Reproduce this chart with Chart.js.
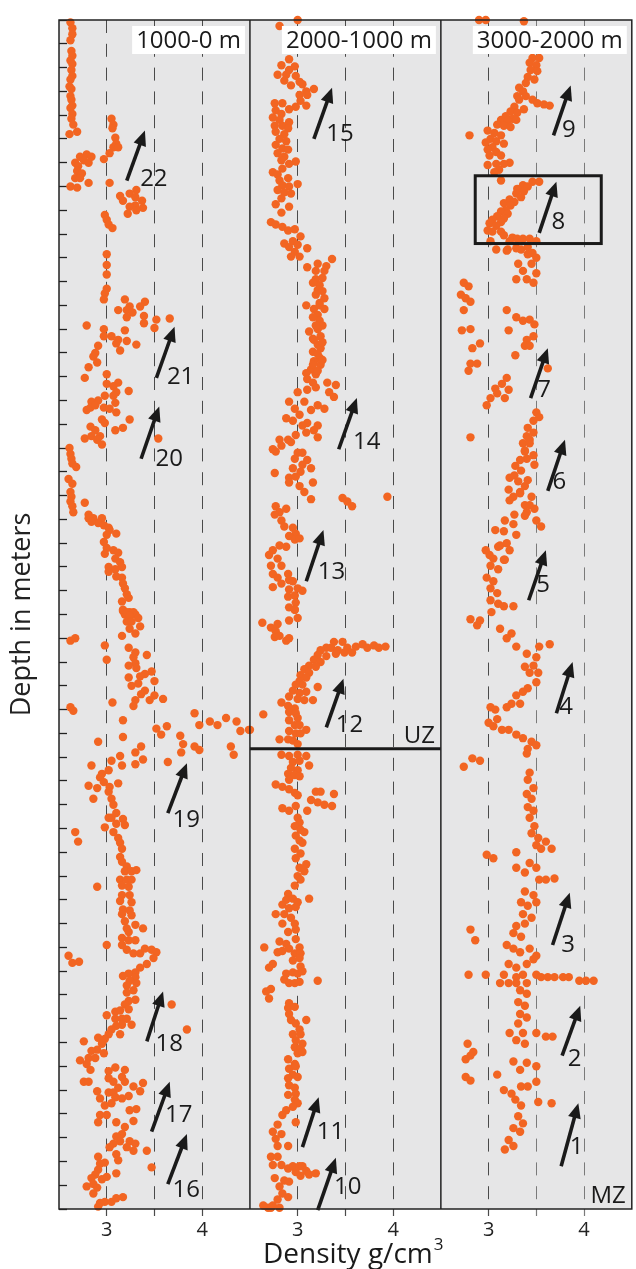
<!DOCTYPE html>
<html>
<head>
<meta charset="utf-8">
<script src="https://cdn.jsdelivr.net/npm/chart.js@4.4.1/dist/chart.umd.min.js"></script>
<style>
  body { margin: 0; background: #fff; }
  #wrap { width: 636px; height: 1269px; }
</style>
</head>
<body>
<div id="wrap"><canvas id="myChart"></canvas></div>
<script>
'use strict'

const panelLabels = ['1000-0 m', '2000-1000 m', '3000-2000 m'];
const panelRanges = [[0, 1000], [1000, 2000], [2000, 3000]];
const densityTickLabels = [3, 4];

// [density g/cm3, depth m]
const panel1Points = [
  [2.62,2],[2.64,7],[2.64,12],[2.62,17],[2.63,26],[2.64,30],[2.62,34],[2.64,37],[2.63,42],[2.64,47],[2.62,50],[2.61,56],[2.63,58],[2.62,64],[2.63,67],[2.64,72],[2.62,74],[2.64,79],[2.63,83],[2.65,88],[2.61,96],[2.69,94],
  [2.79,113],[2.84,115],[2.72,115],[2.76,118],[2.67,120],[2.81,120],[2.70,123],[2.69,127],[2.74,129],[2.67,133],[2.72,133],[2.81,137],[2.62,140],[2.69,141],
  [3.05,83],[3.07,88],[3.06,91],[3.09,99],[3.10,104],[3.07,107],[3.12,107],[3.03,112],[2.97,117],[3.03,137],
  [3.31,143],[3.24,146],[3.14,148],[3.30,149],[3.17,152],[3.37,152],[3.30,156],[3.24,157],[3.38,158],[3.31,160],[3.22,163],
  [2.98,164],[3.00,168],[3.02,172],[3.06,175],[3.00,197],[3.00,206],[3.00,214],[3.00,226],[2.98,230],[2.97,235],
  [3.19,235],[3.40,237],[3.24,241],[3.12,244],[3.21,244],[3.35,241],[3.27,246],[3.39,249],[3.21,250],[3.52,252],[3.66,251],[3.39,255],[3.50,259],
  [2.79,257],[2.97,260],[3.19,261],[3.05,266],[2.97,266],[3.12,269],[3.21,270],[3.10,272],[3.31,273],[2.91,274],[3.14,278],[2.88,280],[2.86,283],[2.90,288],[2.81,292],
  [3.00,298],[2.77,301],[3.12,305],[3.00,306],[3.07,308],[3.10,313],[3.23,312],[2.98,316],[3.07,316],[2.91,320],[2.84,321],[3.09,322],[2.79,328],[2.97,326],[2.83,326],[2.88,324],[3.03,327],[3.10,330],
  [2.95,336],[3.24,336],[2.98,339],[2.83,342],[3.17,343],[2.88,345],[3.09,345],[2.77,352],[2.84,350],[2.93,350],[2.90,353],[2.95,357],[3.54,352],
  [2.61,360],[2.62,365],[2.63,369],[2.64,373],[2.68,376],[2.60,386],[2.64,390],[2.62,397],[2.63,401],[2.62,405],[2.64,409],[2.65,414],
  [2.77,406],[2.81,416],[2.86,419],[2.81,419],[2.95,419],[2.91,423],[2.84,422],[2.97,425],[3.02,427],[3.03,429],[3.00,433],[3.10,432],[2.97,439],[3.00,444],[2.98,449],[3.07,446],[3.12,448],
  [3.09,453],[3.14,456],[3.02,460],[3.16,460],[3.09,462],[3.02,464],[3.10,468],[3.16,469],[3.17,474],[3.19,478],[3.21,483],[3.23,486],[3.16,489],[3.17,497],[3.24,498],[3.30,500],[3.19,500],
  [3.17,496],[3.21,498],[3.28,498],[3.24,501],[3.33,503],[3.21,506],[3.26,506],[3.35,510],[3.16,518],[3.24,512],[3.30,516],[2.62,522],[2.67,520],[2.98,526],[3.00,538],[3.23,528],[3.30,532],[3.42,534],[3.28,536],[3.30,541],
  [3.23,543],[3.31,545],[3.47,548],[3.40,550],[3.35,552],[3.23,553],[3.50,556],[3.26,560],[3.33,558],[3.40,564],[3.36,567],[3.30,572],[3.50,568],[3.59,571],[3.45,572],[3.28,577],[3.06,574],[2.62,578],[2.65,581],
  [3.17,589],[3.52,596],[3.57,601],[3.63,594],[3.17,603],[2.91,607],[3.30,616],[3.36,611],[3.38,622],[3.30,626],[3.14,619],[3.16,627],[3.05,623],[2.84,627],[2.95,634],[3.02,631],[2.81,644],[2.90,646],[2.86,655],
  [2.93,637],[2.97,641],[3.03,645],[3.12,642],[3.02,649],[3.05,655],[3.07,660],[3.10,667],[3.05,671],[3.17,672],[3.02,671],[2.98,679],[3.10,676],[3.19,677],[3.07,683],[3.12,688],[3.14,692],[3.16,697],
  [3.14,704],[3.16,708],[3.21,712],[3.19,716],[3.26,716],[3.31,715],[3.14,723],[3.21,723],[3.26,723],[3.16,728],[3.23,729],[3.16,736],[3.24,736],[3.14,741],[3.26,742],[3.17,748],[3.24,749],[3.16,752],[3.26,753],
  [3.19,758],[3.30,761],[3.21,764],[3.38,764],[3.23,767],[3.16,772],[3.16,778],[3.23,774],[3.30,774],[3.21,782],[3.28,785],[3.35,785],[3.40,781],[3.47,782],[3.52,784],[3.49,789],
  [2.67,683],[2.70,691],[2.90,729],[3.00,778],[2.60,787],[2.64,793],[2.71,792],
  [3.42,794],[3.35,797],[3.30,801],[3.23,802],[3.17,804],[3.30,805],[3.24,808],[3.31,810],[3.21,812],[3.28,816],[3.21,818],[3.30,824],[3.23,825],[3.19,828],[3.09,834],[3.14,833],[3.23,832],
  [3.00,837],[3.09,840],[3.16,840],[3.21,840],[3.26,845],[3.16,845],[3.10,846],[3.05,849],[3.14,853],[3.02,853],[2.98,857],[2.91,856],[2.95,861],[2.90,866],[2.84,867],[2.97,869],[2.81,873],[2.76,859],[2.88,873],
  [2.72,875],[2.79,878],[2.83,883],[2.76,893],[2.81,893],[3.09,881],[3.02,884],[3.19,883],[3.16,889],[3.02,890],[3.07,893],[3.19,893],[3.28,897],[3.38,894],[2.90,901],[3.02,902],[3.12,898],[3.07,902],
  [2.93,907],[3.09,906],[3.16,907],[3.23,905],[3.35,901],[3.05,911],[2.98,913],[3.24,917],[3.31,916],[2.93,921],[3.00,921],[2.91,927],[3.10,927],[3.28,926],[3.19,931],[3.16,937],[3.10,939],[3.07,945],
  [3.24,943],[3.14,943],[3.30,945],[3.03,948],[3.21,948],[3.10,954],[3.12,959],[3.28,951],[3.42,951],[2.91,956],[2.93,962],[2.98,961],[2.91,967],[2.88,971],[2.84,974],[2.95,975],[3.00,973],
  [2.79,981],[2.86,979],[2.90,982],[2.86,987],[3.10,970],[3.47,965],[2.93,995],[2.98,994],[3.05,994],[3.10,991],[3.17,990],[2.91,998],
  [3.92,583],[3.97,593],[4.08,590],[4.16,593],[4.25,587],[4.36,590],[4.40,598],[4.49,597],[3.77,602],[3.80,609],[3.78,616],[3.92,611],[3.97,614],[3.64,624],[4.30,611],[4.33,618],[3.68,828],[3.84,849]
];

const panel2Points = [
  [3.00,1000],[2.81,1005],[2.91,1033],[2.83,1038],[2.91,1042],[2.97,1039],[2.79,1046],[2.88,1046],[2.98,1047],[2.86,1051],[3.02,1052],[2.93,1055],[3.05,1054],[3.09,1060],[3.17,1058],[3.02,1063],[3.10,1063],
  [3.03,1068],[3.09,1072],[2.98,1073],[2.76,1070],[2.84,1070],[2.91,1075],[2.77,1076],[2.83,1079],[2.74,1082],[2.81,1084],[2.91,1086],[2.76,1089],[2.84,1089],[2.90,1091],[2.77,1094],[2.86,1096],[2.81,1100],
  [2.88,1102],[2.77,1105],[2.84,1108],[2.90,1109],[2.79,1112],[2.86,1115],[2.83,1118],[2.98,1119],[2.91,1121],[2.84,1125],[2.74,1128],[2.79,1130],[2.90,1133],[2.81,1135],[3.00,1138],[2.84,1139],[2.91,1140],
  [2.79,1143],[2.86,1145],[2.93,1146],[2.83,1150],[2.77,1155],[2.91,1157],[2.83,1162],[2.72,1170],[2.77,1172],[2.84,1174],[2.90,1177],[2.97,1176],[3.03,1182],[2.86,1188],[2.95,1186],[3.00,1189],[2.91,1191],
  [3.10,1192],[2.97,1195],[2.93,1199],[3.02,1199],
  [3.10,1208],[3.21,1205],[3.30,1207],[3.36,1201],[3.19,1211],[3.28,1211],[3.19,1218],[3.26,1217],[3.23,1223],[3.21,1227],[3.19,1231],[3.28,1234],[3.23,1238],[3.09,1240],[3.17,1243],[3.28,1243],[3.21,1248],
  [3.23,1253],[3.12,1262],[3.21,1260],[3.24,1266],[3.16,1268],[3.21,1273],[3.24,1276],[3.16,1279],[3.23,1284],[3.17,1287],[3.24,1290],[3.14,1294],[3.09,1297],[3.19,1298],[3.10,1302],[3.16,1305],[3.31,1305],
  [3.40,1307],[3.19,1309],[3.10,1311],[3.33,1313],[3.38,1317],[3.00,1313],[2.91,1321],[3.07,1321],[3.21,1324],[2.97,1327],[3.14,1328],[3.28,1327],[2.88,1335],[3.02,1332],[2.95,1337],[3.10,1339],[3.05,1341],
  [3.21,1341],[3.17,1345],[3.09,1347],[2.98,1349],[3.21,1351],[2.90,1353],[2.81,1353],[2.93,1355],[2.74,1361],[2.83,1358],[2.77,1363],[3.00,1364],[3.05,1364],[2.97,1369],[3.10,1370],[3.05,1374],[2.95,1377],
  [3.03,1380],[3.14,1377],[2.76,1381],[2.91,1385],[2.98,1384],[3.16,1389],[2.91,1389],[3.02,1392],[3.07,1397],[3.14,1403],[3.47,1402],[3.52,1405],[3.57,1409],[3.94,1401],
  [2.77,1409],[2.81,1414],[2.88,1411],[2.76,1416],[2.83,1421],[2.95,1427],[2.86,1426],[2.98,1432],[2.91,1434],[2.97,1437],[3.02,1436],[2.88,1443],[2.81,1442],[2.74,1446],[2.70,1450],[2.79,1453],[2.72,1459],
  [2.83,1459],[2.74,1466],[2.79,1469],[2.90,1466],[2.91,1471],[2.83,1474],[2.74,1477],[2.95,1472],[2.91,1479],[3.00,1478],[3.05,1480],[2.90,1485],[2.97,1484],[2.98,1490],[2.91,1494],[2.97,1496],
  [3.16,1221],[3.26,1228],[3.23,1240],[3.16,1250],[3.26,1257],[3.19,1257],[3.17,1269],[3.26,1271],[3.21,1281],[3.26,1286],[3.16,1290],[3.21,1295],
  [2.97,1496],[3.00,1503],[2.91,1505],[2.63,1507],[2.72,1511],[2.79,1508],[2.77,1514],[2.76,1519],[2.81,1518],[2.88,1522],[2.91,1520],
  [3.38,1523],[3.47,1523],[3.30,1528],[3.24,1530],[3.35,1528],[3.42,1530],[3.52,1528],[3.61,1527],[3.68,1525],[3.73,1528],[3.80,1526],[3.85,1528],[3.92,1527],[3.40,1533],[3.49,1532],[3.57,1532],
  [3.21,1534],[3.30,1535],[3.17,1538],[3.24,1540],[3.12,1543],[3.19,1544],[3.07,1546],[3.12,1549],[3.03,1551],[3.09,1553],[3.02,1556],[3.05,1559],[2.98,1559],[3.21,1561],[2.95,1564],[3.02,1566],[3.09,1565],
  [2.91,1569],[3.00,1571],[3.07,1572],[3.16,1572],[2.83,1574],[2.90,1577],[2.97,1579],[2.91,1582],[2.98,1583],[2.64,1584],[3.00,1587],[2.91,1589],[2.97,1593],[3.02,1593],[3.09,1597],[2.91,1598],[2.98,1600],
  [3.03,1600],[2.81,1605],[2.90,1605],[2.95,1606],[3.00,1609],[2.50,1597],
  [2.83,1618],[2.91,1619],[3.00,1618],[3.09,1619],[2.95,1624],[3.02,1623],[3.12,1627],[2.93,1629],[3.00,1631],[2.90,1634],[2.97,1635],[3.02,1636],[2.91,1639],[2.77,1643],[2.84,1645],[2.91,1647],[2.97,1650],
  [3.00,1652],[3.19,1649],[3.24,1649],[3.38,1651],[3.14,1656],[3.21,1658],[3.28,1660],[3.36,1661],[2.84,1663],[2.91,1665],[2.98,1661],[3.10,1665],[3.00,1671],[3.02,1675],[2.97,1678],[3.03,1681],[3.07,1683],
  [2.98,1686],[3.02,1690],[3.05,1692],[2.97,1697],[3.03,1701],[2.98,1705],[3.09,1710],[3.02,1713],[3.07,1716],[3.00,1720],[3.03,1723],[2.97,1728],[2.90,1735],[2.88,1740],[2.95,1739],[3.00,1742],[2.84,1744],
  [2.91,1747],[2.98,1746],[3.12,1739],[2.86,1752],[2.77,1752],[2.93,1755],[2.84,1760],[2.97,1760],[2.90,1767],[2.98,1765],[2.81,1775],[2.79,1784],[2.88,1777],[2.98,1773],[3.02,1780],[2.91,1781],[2.84,1783],
  [2.97,1785],[3.03,1785],[2.65,1780],[2.74,1794],[2.70,1797],[2.95,1791],[3.02,1789],[3.03,1796],[2.88,1802],[2.95,1801],[3.00,1802],[3.05,1800],[2.86,1807],[2.91,1810],[2.97,1810],[3.02,1809],[3.21,1808],
  [2.67,1817],[2.72,1815],[2.70,1823],[2.91,1827],[2.90,1831],[2.97,1830],[2.91,1836],[2.93,1841],[2.98,1844],[3.09,1841],[3.02,1849],[2.95,1853],[3.03,1853],[2.98,1858],[3.05,1861],[2.97,1864],[3.03,1865],
  [3.00,1869],[3.05,1868],[2.90,1874],[2.97,1878],[2.91,1882],[2.98,1880],[2.95,1887],[2.90,1890],[3.00,1889],[2.91,1896],[2.97,1898],[2.98,1903],[2.90,1904],[2.97,1908],[3.00,1911],[2.95,1914],[2.88,1917],
  [2.84,1921],[2.98,1927],[2.79,1929],[2.74,1935],[2.83,1937],[2.90,1947],[2.77,1941],[2.79,1947],[2.72,1956],[2.79,1956],[2.74,1963],[2.83,1963],[2.90,1966],[2.95,1964],[3.02,1964],[2.98,1969],[3.05,1964],
  [3.09,1968],[3.12,1971],[3.19,1970],[3.03,1972],[2.76,1974],[2.86,1976],[2.81,1981],[2.91,1977],[2.84,1987],[2.90,1990],[2.79,1992],[2.74,1997],[2.69,1999],[2.72,1999],[2.81,1999],[2.64,1997]
];

const panel3Points = [
  [2.90,2000],[2.97,2000],[3.37,2001],[3.46,2032],[3.53,2032],[3.43,2036],[3.50,2038],[3.44,2042],[3.51,2043],[3.41,2048],[3.48,2050],[3.39,2053],[3.32,2057],[3.36,2060],[3.30,2064],[3.39,2064],[3.32,2067],
  [3.46,2067],[3.51,2070],[3.58,2071],[3.64,2072],[3.27,2073],[3.37,2075],[3.23,2077],[3.30,2078],[3.18,2081],[3.25,2083],[3.13,2084],[3.20,2085],[3.29,2084],[3.09,2088],[3.16,2089],[3.23,2090],[2.99,2093],
  [3.06,2095],[2.80,2097],[3.13,2097],[3.02,2100],[3.08,2102],[2.97,2103],[3.16,2104],[3.04,2107],[2.99,2109],[3.08,2111],[3.13,2114],[3.01,2114],[3.22,2120],[3.08,2121],[2.99,2122],[3.16,2121],[3.11,2126],
  [3.06,2128],[3.13,2135],[3.46,2136],[3.53,2136],[3.36,2139],[3.41,2140],[3.30,2142],[3.37,2144],[3.29,2146],[3.34,2149],[3.22,2151],[3.27,2153],[3.16,2154],[3.23,2156],[3.18,2160],[3.13,2161],[3.20,2163],
  [3.09,2165],[3.16,2167],[3.04,2168],[3.13,2170],[3.01,2171],[3.08,2173],[2.99,2177],[3.04,2178],[3.13,2178],[3.16,2181],[3.25,2183],[3.30,2184],[3.36,2184],[3.43,2184],[3.50,2186],[3.22,2186],[3.02,2186],
  [3.08,2193],[3.20,2193],[3.34,2193],[3.41,2191],[3.46,2196],
  [3.19,2194],[3.29,2192],[3.41,2197],[3.50,2200],[3.31,2205],[3.45,2205],[3.36,2211],[3.50,2213],[3.29,2218],[3.40,2218],[3.47,2221],[2.74,2221],[2.79,2224],[2.71,2231],[2.76,2234],[2.81,2237],[2.74,2244],
  [3.19,2244],[3.29,2250],[3.36,2253],[3.43,2252],[3.48,2256],[2.72,2261],[2.81,2260],[3.21,2261],[3.47,2266],[3.40,2269],[3.38,2274],[3.43,2274],[2.83,2276],[2.91,2272],[3.28,2282],[2.81,2289],[2.88,2289],
  [2.79,2295],[3.62,2293],[3.19,2301],[3.14,2306],[3.07,2310],[3.21,2311],[3.09,2314],[3.02,2318],[3.17,2318],[2.98,2324],[2.81,2351],[3.50,2330],[3.47,2337],[3.53,2334],[3.41,2343],[3.40,2350],[3.47,2347],
  [3.36,2356],[3.43,2356],[3.38,2363],[3.47,2366],[3.40,2369],[3.28,2375],[3.34,2379],[3.22,2385],[3.31,2388],[3.21,2395],[3.38,2392],[3.26,2401],[3.33,2398],[3.38,2408],[3.45,2401],[3.40,2414],[3.48,2411],
  [3.43,2353],[3.38,2362],[3.33,2370],[3.48,2374],[3.27,2383],[3.41,2387],[3.33,2397],[3.22,2404],[3.43,2408],[3.27,2416],[3.17,2421],[3.07,2429],[3.12,2442],[3.01,2450],[3.17,2454],
  [3.50,2421],[3.55,2426],[3.38,2417],[3.26,2424],[3.16,2430],[3.29,2433],[3.19,2440],[3.10,2443],[3.22,2446],[2.97,2446],[3.05,2453],[3.16,2454],[3.02,2459],[3.10,2462],[2.98,2469],[3.05,2472],[3.02,2478],
  [3.09,2482],[3.02,2488],[3.10,2491],[3.16,2493],[3.26,2493],[3.03,2498],[2.81,2504],[2.88,2509],[2.91,2505],[3.12,2512],[3.24,2516],[3.19,2520],[3.29,2527],[3.40,2533],[3.50,2536],[3.64,2525],[3.53,2527],
  [3.38,2544],[3.47,2543],[3.43,2549],[3.52,2549],[3.50,2557],[3.41,2562],[3.36,2565],[3.29,2568],[3.24,2575],[3.33,2575],[3.19,2578],[3.02,2578],[3.07,2580],[3.09,2588],[3.00,2591],[3.05,2594],[3.14,2597],
  [3.21,2597],[3.29,2601],[3.36,2604],[3.45,2607],[3.41,2613],[3.50,2610],[3.40,2617],[2.83,2621],[2.74,2628],[2.91,2623],[3.43,2633],[3.41,2639],[3.47,2646],[3.40,2651],[3.45,2655],[3.41,2662],[3.47,2665],
  [3.43,2671],[3.48,2678],[3.45,2684],[3.52,2688],[3.50,2694],[3.60,2691],[3.55,2697],[3.66,2697],[2.98,2702],[3.05,2705],[3.29,2700],[3.43,2709],[3.50,2713],[3.29,2713],[3.38,2717],[3.53,2723],[3.60,2723],
  [3.69,2722],[3.38,2733],[3.47,2736],[3.34,2742],[3.41,2745],[3.50,2742],[3.36,2752],[3.45,2755],[3.29,2762],[3.38,2760],[2.81,2765],[3.26,2768],[3.34,2771],[2.86,2774],[3.19,2778],[3.26,2781],[3.33,2784],
  [3.43,2781],[3.50,2787],[3.21,2794],[3.29,2797],[3.40,2794],[3.47,2790],[3.16,2803],[3.36,2803],[3.29,2805],[2.79,2803],[2.97,2803],[3.12,2810],[3.21,2810],[3.29,2810],[3.40,2810],[3.50,2803],[3.55,2805],
  [3.62,2805],[3.69,2805],[3.78,2805],[3.84,2805],[3.95,2808],[4.02,2808],[4.10,2808],[3.33,2816],[3.40,2819],[3.31,2826],[3.38,2829],[3.33,2836],[3.40,2839],[3.31,2844],[3.22,2852],[3.36,2852],[3.50,2852],
  [3.60,2855],[3.67,2855],[3.29,2858],[3.38,2861],[2.78,2861],[2.84,2868],[2.76,2874],[2.81,2871],[3.09,2887],[3.26,2876],[3.40,2877],[3.33,2883],[3.50,2880],[2.76,2889],[2.81,2892],[3.16,2900],[3.24,2903],
  [3.34,2897],[3.41,2897],[3.50,2893],[3.28,2908],[3.34,2913],[3.52,2910],[3.66,2911],[3.31,2922],[3.36,2928],[3.26,2932],[3.33,2935],[3.21,2942],[3.26,2947],[3.17,2950]
];

// cycle arrows: panel index, tail [density, depth], head [density, depth], label [density, depth]
const cycleNames = ['22','21','20','19','18','17','16','15','14','13','12','11','10','9','8','7','6','5','4','3','2','1'];
const cyclePanels = [0,0,0,0,0,0,0,1,1,1,1,1,1,2,2,2,2,2,2,2,2,2];
const cycleTails = [[3.21,135],[3.52,301],[3.36,369],[3.64,667],[3.42,859],[3.47,935],[3.64,979],
  [3.17,1100],[3.43,1361],[3.09,1472],[3.30,1595],[3.05,1948],[3.21,2001],
  [3.68,2097],[3.53,2179],[3.44,2318],[3.62,2396],[3.42,2488],[3.71,2583],[3.67,2778],[3.77,2871],[3.76,2964]];
const cycleHeads = [[3.40,93],[3.71,258],[3.55,325],[3.84,625],[3.59,817],[3.66,893],[3.84,937],
  [3.36,1057],[3.62,1318],[3.27,1429],[3.48,1554],[3.22,1906],[3.40,1957],
  [3.86,2055],[3.71,2136],[3.62,2276],[3.80,2353],[3.60,2446],[3.88,2540],[3.85,2734],[3.96,2829],[3.94,2911]];
const cycleLabelAt = [[3.35,134],[3.63,300],[3.51,369],[3.69,673],[3.51,861],[3.61,921],[3.69,984],
  [3.30,1096],[3.58,1355],[3.21,1464],[3.40,1593],[3.20,1935],[3.38,1982],
  [3.77,2093],[3.66,2170],[3.51,2311],[3.67,2389],[3.50,2475],[3.74,2578],[3.76,2778],[3.83,2874],[3.85,2948]];

const uzDepth = 1613;
const boxRange = { x: [2.86, 4.18], y: [2131, 2188] };

const orange = '#f26522';
const fontFamily = "'Open Sans', 'Noto Sans', sans-serif";
Chart.defaults.font.family = fontFamily;
Chart.defaults.color = '#222';

const panels = [panel1Points, panel2Points, panel3Points];

function drawArrow(ctx, x1, y1, x2, y2) {
  const ang = Math.atan2(y2 - y1, x2 - x1);
  const len = 15, half = 6.5;
  const bx = x2 - len * Math.cos(ang), by = y2 - len * Math.sin(ang);
  ctx.lineWidth = 3.6;
  ctx.beginPath();
  ctx.moveTo(x1, y1);
  ctx.lineTo(bx + 2 * Math.cos(ang), by + 2 * Math.sin(ang));
  ctx.stroke();
  ctx.beginPath();
  ctx.moveTo(x2, y2);
  ctx.lineTo(bx + half * Math.sin(ang), by - half * Math.cos(ang));
  ctx.lineTo(bx - half * Math.sin(ang), by + half * Math.cos(ang));
  ctx.closePath();
  ctx.fill();
}

const overlay = {
  id: 'overlay',
  beforeDraw(chart) {
    const { ctx, chartArea: a } = chart;
    ctx.save();
    ctx.fillStyle = '#e6e6e7';
    ctx.fillRect(a.left, a.top, a.width, a.height);
    ctx.restore();
  },
  afterDatasetsDraw(chart) {
    const { ctx, chartArea: a, scales } = chart;
    ctx.save();
    ctx.strokeStyle = '#1a1a1a';
    ctx.fillStyle = '#1a1a1a';

    // UZ boundary in the middle panel
    const x2 = scales.x2, y2 = scales.y2;
    const uy = y2.getPixelForValue(uzDepth);
    ctx.lineWidth = 3;
    ctx.beginPath();
    ctx.moveTo(x2.left, uy);
    ctx.lineTo(x2.right, uy);
    ctx.stroke();
    ctx.font = '24px ' + fontFamily;
    ctx.textAlign = 'right';
    ctx.textBaseline = 'alphabetic';
    ctx.fillText('UZ', x2.right - 6, uy - 6);

    // marked interval in the right panel
    const x3 = scales.x3, y3 = scales.y3;
    ctx.lineWidth = 3;
    ctx.strokeRect(x3.getPixelForValue(boxRange.x[0]), y3.getPixelForValue(boxRange.y[0]),
      x3.getPixelForValue(boxRange.x[1]) - x3.getPixelForValue(boxRange.x[0]),
      y3.getPixelForValue(boxRange.y[1]) - y3.getPixelForValue(boxRange.y[0]));
    ctx.fillText('MZ', x3.right - 6, a.bottom - 6);

    // cycle arrows
    ctx.textAlign = 'left';
    ctx.textBaseline = 'middle';
    cycleNames.forEach((name, i) => {
      const xs = scales['x' + (cyclePanels[i] + 1)], ys = scales['y' + (cyclePanels[i] + 1)];
      drawArrow(ctx,
        xs.getPixelForValue(cycleTails[i][0]), ys.getPixelForValue(cycleTails[i][1]),
        xs.getPixelForValue(cycleHeads[i][0]), ys.getPixelForValue(cycleHeads[i][1]));
      ctx.fillText(name, xs.getPixelForValue(cycleLabelAt[i][0]), ys.getPixelForValue(cycleLabelAt[i][1]));
    });

    // panel frames
    ctx.lineWidth = 1.5;
    ctx.strokeStyle = '#222';
    ctx.strokeRect(a.left, a.top, a.width, a.height);
    ['x1', 'x2'].forEach(id => {
      ctx.beginPath();
      ctx.moveTo(scales[id].right, a.top);
      ctx.lineTo(scales[id].right, a.bottom);
      ctx.stroke();
    });

    // panel depth labels
    ctx.font = '24px ' + fontFamily;
    ctx.textAlign = 'right';
    ctx.textBaseline = 'middle';
    panelLabels.forEach((txt, i) => {
      const xs = scales['x' + (i + 1)];
      const w = ctx.measureText(txt).width + 8;
      ctx.fillStyle = '#fff';
      ctx.fillRect(xs.right - 5 - w, a.top + 6, w, 28);
      ctx.fillStyle = '#1a1a1a';
      ctx.fillText(txt, xs.right - 9, a.top + 21);
    });

    // x title with superscript
    ctx.textAlign = 'left';
    ctx.textBaseline = 'alphabetic';
    ctx.font = '28px ' + fontFamily;
    const tx = 263, ty = a.bottom + 54;
    ctx.fillText('Density g/cm', tx, ty);
    const tw = ctx.measureText('Density g/cm').width;
    ctx.font = '17px ' + fontFamily;
    ctx.fillText('3', tx + tw + 1, ty - 13);
    ctx.restore();
  }
};

function xScale(i) {
  return {
    type: 'linear',
    position: 'bottom',
    stack: 'density',
    stackWeight: 1,
    min: 2.5,
    max: 4.5,
    afterFit: s => { s.height = 60; },
    ticks: {
      stepSize: 0.5,
      autoSkip: false,
      maxRotation: 0,
      padding: 2,
      font: { size: 20 },
      color: '#222',
      callback: v => densityTickLabels.includes(v) ? String(v) : ''
    },
    grid: {
      color: c => (c.tick && (c.tick.value === 2.5 || c.tick.value === 4.5)) ? 'rgba(0,0,0,0)'
        : (i === 2 && c.tick && c.tick.value > 3 ? '#7a7a7a' : '#4a4a4a'),
      lineWidth: 1,
      tickLength: 7,
      tickWidth: 1.2
    },
    border: { display: false, dash: [13, 10.8] }
  };
}

function yScale(i) {
  return {
    type: 'linear',
    display: i === 0,
    reverse: true,
    min: panelRanges[i][0],
    max: panelRanges[i][1],
    afterFit: s => { s.width = i === 0 ? 59 : 0; },
    ticks: { stepSize: 20, display: false },
    grid: { drawOnChartArea: false, drawTicks: true, tickLength: -8, tickColor: '#222', tickWidth: 1.3 },
    border: { display: false },
    title: { display: i === 0, text: 'Depth in meters', font: { size: 27 }, color: '#222', padding: { top: 6, bottom: 0 } }
  };
}

const config = {
  type: 'scatter',
  data: {
    datasets: panels.map((pts, i) => ({
      label: panelLabels[i],
      data: pts.map(p => ({ x: p[0], y: p[1] })),
      xAxisID: 'x' + (i + 1),
      yAxisID: 'y' + (i + 1),
      pointRadius: 4.2,
      pointHoverRadius: 4.2,
      pointBackgroundColor: orange,
      pointBorderWidth: 0,
      clip: false
    }))
  },
  options: {
    responsive: true,
    maintainAspectRatio: false,
    animation: false,
    layout: { padding: { top: 20, right: 3, left: 0, bottom: 0 } },
    plugins: { legend: { display: false }, tooltip: { enabled: false } },
    scales: {
      x1: xScale(0), x2: xScale(1), x3: xScale(2),
      y1: yScale(0), y2: yScale(1), y3: yScale(2)
    }
  },
  plugins: [overlay]
};

const myChart = new Chart(document.getElementById('myChart'), config);
</script>
</body>
</html>
